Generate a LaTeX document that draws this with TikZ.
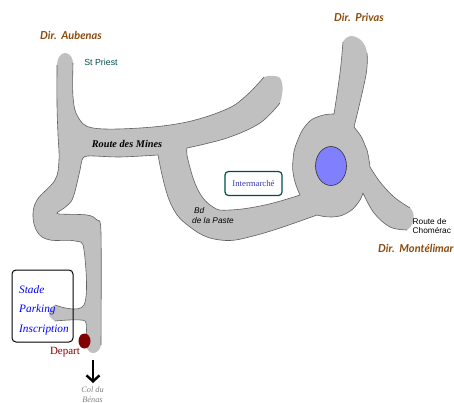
\documentclass[tikz,border=0pt]{standalone}
\usepackage{fontspec}
\usetikzlibrary{arrows.meta}
\setmainfont{Liberation Serif}
\setsansfont{Liberation Sans}
\newfontfamily\dirfont{Lato}
\definecolor{roadgray}{HTML}{C0C0C0}
\definecolor{edgegray}{HTML}{606060}
\definecolor{dirbrown}{HTML}{8B4A0B}
\definecolor{tealdark}{HTML}{004D4D}
\definecolor{lake}{HTML}{8080FF}
\definecolor{startred}{HTML}{800000}
\definecolor{shopblue}{HTML}{3A3AB0}
\def\segA{plot[smooth,tension=.6] coordinates {(73,63) (73,97) (78,117) (93,128) (140,128) (187,122) (227,109) (247,95) (264,77)}}
\def\segB{plot[smooth,tension=.6] coordinates {(280,103) (260,123) (227,138) (187,148)}}
\def\segC{plot[smooth,tension=.7] coordinates {(187,148) (188,160) (198,190) (213,207) (230,210) (265,205) (300,195)}}
\def\segD{plot[smooth,tension=.8] coordinates {(300,195) (294,178) (293,160) (297,142) (307,124) (320,116) (334,114)}}
\def\segE{plot[smooth,tension=.6] coordinates {(334,114) (340,73) (343,42)}}
\def\segF{plot[smooth,tension=.6] coordinates {(367,53) (366,75) (354,127)}}
\def\segG{plot[smooth,tension=.8] coordinates {(354,127) (362,138) (367,150) (370,167)}}
\def\segH{plot[smooth,tension=.6] coordinates {(370,167) (380,182) (394,197) (410,208)}}
\def\segI{plot[smooth,tension=.6] coordinates {(407,230) (390,227) (374,213) (363,193)}}
\def\segJ{plot[smooth,tension=.8] coordinates {(363,193) (358,203) (347,213) (332,217) (317,215)}}
\def\segK{plot[smooth,tension=.7] coordinates {(317,215) (257,235) (220,240) (190,227) (170,202) (158,155)}}
\def\segL{plot[smooth,tension=.5] coordinates {(158,155) (120,157) (88,156) (82,160) (80,170) (72,200) (58,212)}}
\def\segM{plot[smooth,tension=.5] coordinates {(58,212) (59,214) (87,215) (97,220) (101,233) (101,345)}}
\def\segN{plot[smooth,tension=.4] coordinates {(85,345) (85,321) (55,321)}}
\def\segO{plot[smooth,tension=.6] coordinates {(55,305) (84,305) (84,250) (75,241) (50,240) (38,233) (33,217) (37,200) (55,180) (59,160) (58,135) (57,105) (57,65)}}
\tikzset{
  roadfill/.style={fill=roadgray},
  roadedge/.style={draw=edgegray,line width=.6pt},
  dirlabel/.style={font=\dirfont\bfseries\itshape\fontsize{11}{13}\selectfont,text=dirbrown,inner sep=0},
  smalllabel/.style={font=\sffamily\fontsize{8.3}{9.5}\selectfont,inner sep=0,align=left},
  venue/.style={font=\itshape\fontsize{11.3}{13}\selectfont,text=blue,inner sep=0}
}
\edef\doroad{\noexpand\fill[roadfill] \segA .. controls (270,75) and (276,76) .. (279,77) .. controls (283,80) and (284,92) .. (280,103) -- \segB -- \segC -- \segD -- \segE .. controls (345,37) and (350,36) .. (352,36) .. controls (360,37) and (366,44) .. (367,53) -- \segF -- \segG -- \segH .. controls (415,212) and (416,224) .. (407,230) -- \segI -- \segJ -- \segK -- \segL -- \segM .. controls (100,350) and (97,353) .. (93,353) .. controls (90,353) and (87,350) .. (85,345) -- \segN .. controls (52,320) and (49,316) .. (49,313) .. controls (50,310) and (53,306) .. (55,305) -- \segO .. controls (57,58) and (61,53) .. (65,53) .. controls (69,53) and (73,57) .. (73,63) -- cycle;}
\begin{document}
\begin{tikzpicture}[x=1pt,y=-1pt]
\useasboundingbox (0,0) rectangle (454,403);
\doroad
\foreach \s in {\segA,\segB,\segC,\segD,\segE,\segF,\segG,\segH,\segI,\segJ,\segK,\segL,\segM,\segN,\segO}{\draw[roadedge] \s;}
\draw[draw=black!80,fill=lake,line width=.6pt] (331,166) ellipse [x radius=15.5,y radius=19.5];
\fill[startred] (84.5,341) ellipse [x radius=6,y radius=7.5];
\draw[black,line width=1pt,rounded corners=4pt] (12,270) rectangle (73,342);
\node[draw=tealdark,line width=1.2pt,rounded corners=3.5pt,fill=white,minimum width=57pt,minimum height=24pt,inner sep=0,font=\fontsize{8.7}{10}\selectfont,text=shopblue] (shop) at (253.5,183.5) {Intermarché};
\node[dirlabel] (aubenas) at (71,35) {Dir.\ \ Aubenas};
\node[dirlabel] (privas) at (359,17) {Dir.\ \ Privas};
\node[dirlabel,anchor=west] (montelimar) at (378,248.5) {Dir.\ \ Montélimar};
\node[smalllabel,text=tealdark,font=\sffamily\fontsize{8.8}{10}\selectfont] (priest) at (101,62.5) {St Priest};
\node[font=\itshape\bfseries\fontsize{10.3}{12}\selectfont,inner sep=0] (mines) at (127,143.5) {Route des Mines};
\node[smalllabel,anchor=west] (bd) at (194,210.5) {\itshape Bd};
\node[smalllabel,anchor=west] (paste) at (192,221) {\itshape de la Paste};
\node[smalllabel,anchor=west] (chomerac) at (412.5,226) {Route de\\[-1pt]Chomérac};
\node[venue,anchor=west] (stade) at (19,289.5) {Stade};
\node[venue,anchor=west] (parking) at (19,309.5) {Parking};
\node[venue,anchor=west] (inscription) at (19,329.5) {Inscription};
\node[font=\fontsize{11}{13}\selectfont,text=startred,inner sep=0] (depart) at (65,352) {Depart};
\node[font=\itshape\fontsize{8.3}{9.8}\selectfont,text=gray,align=center,inner sep=0] (col) at (92.5,394.5) {Col du\\Bénas};
\coordinate (arrowtop) at (93,360);
\coordinate (arrowtip) at (93,383);
\draw[black,line width=2.4pt,-{Straight Barb[length=6pt,width=13pt]}] (arrowtop) -- (arrowtip);
\end{tikzpicture}
\end{document}
